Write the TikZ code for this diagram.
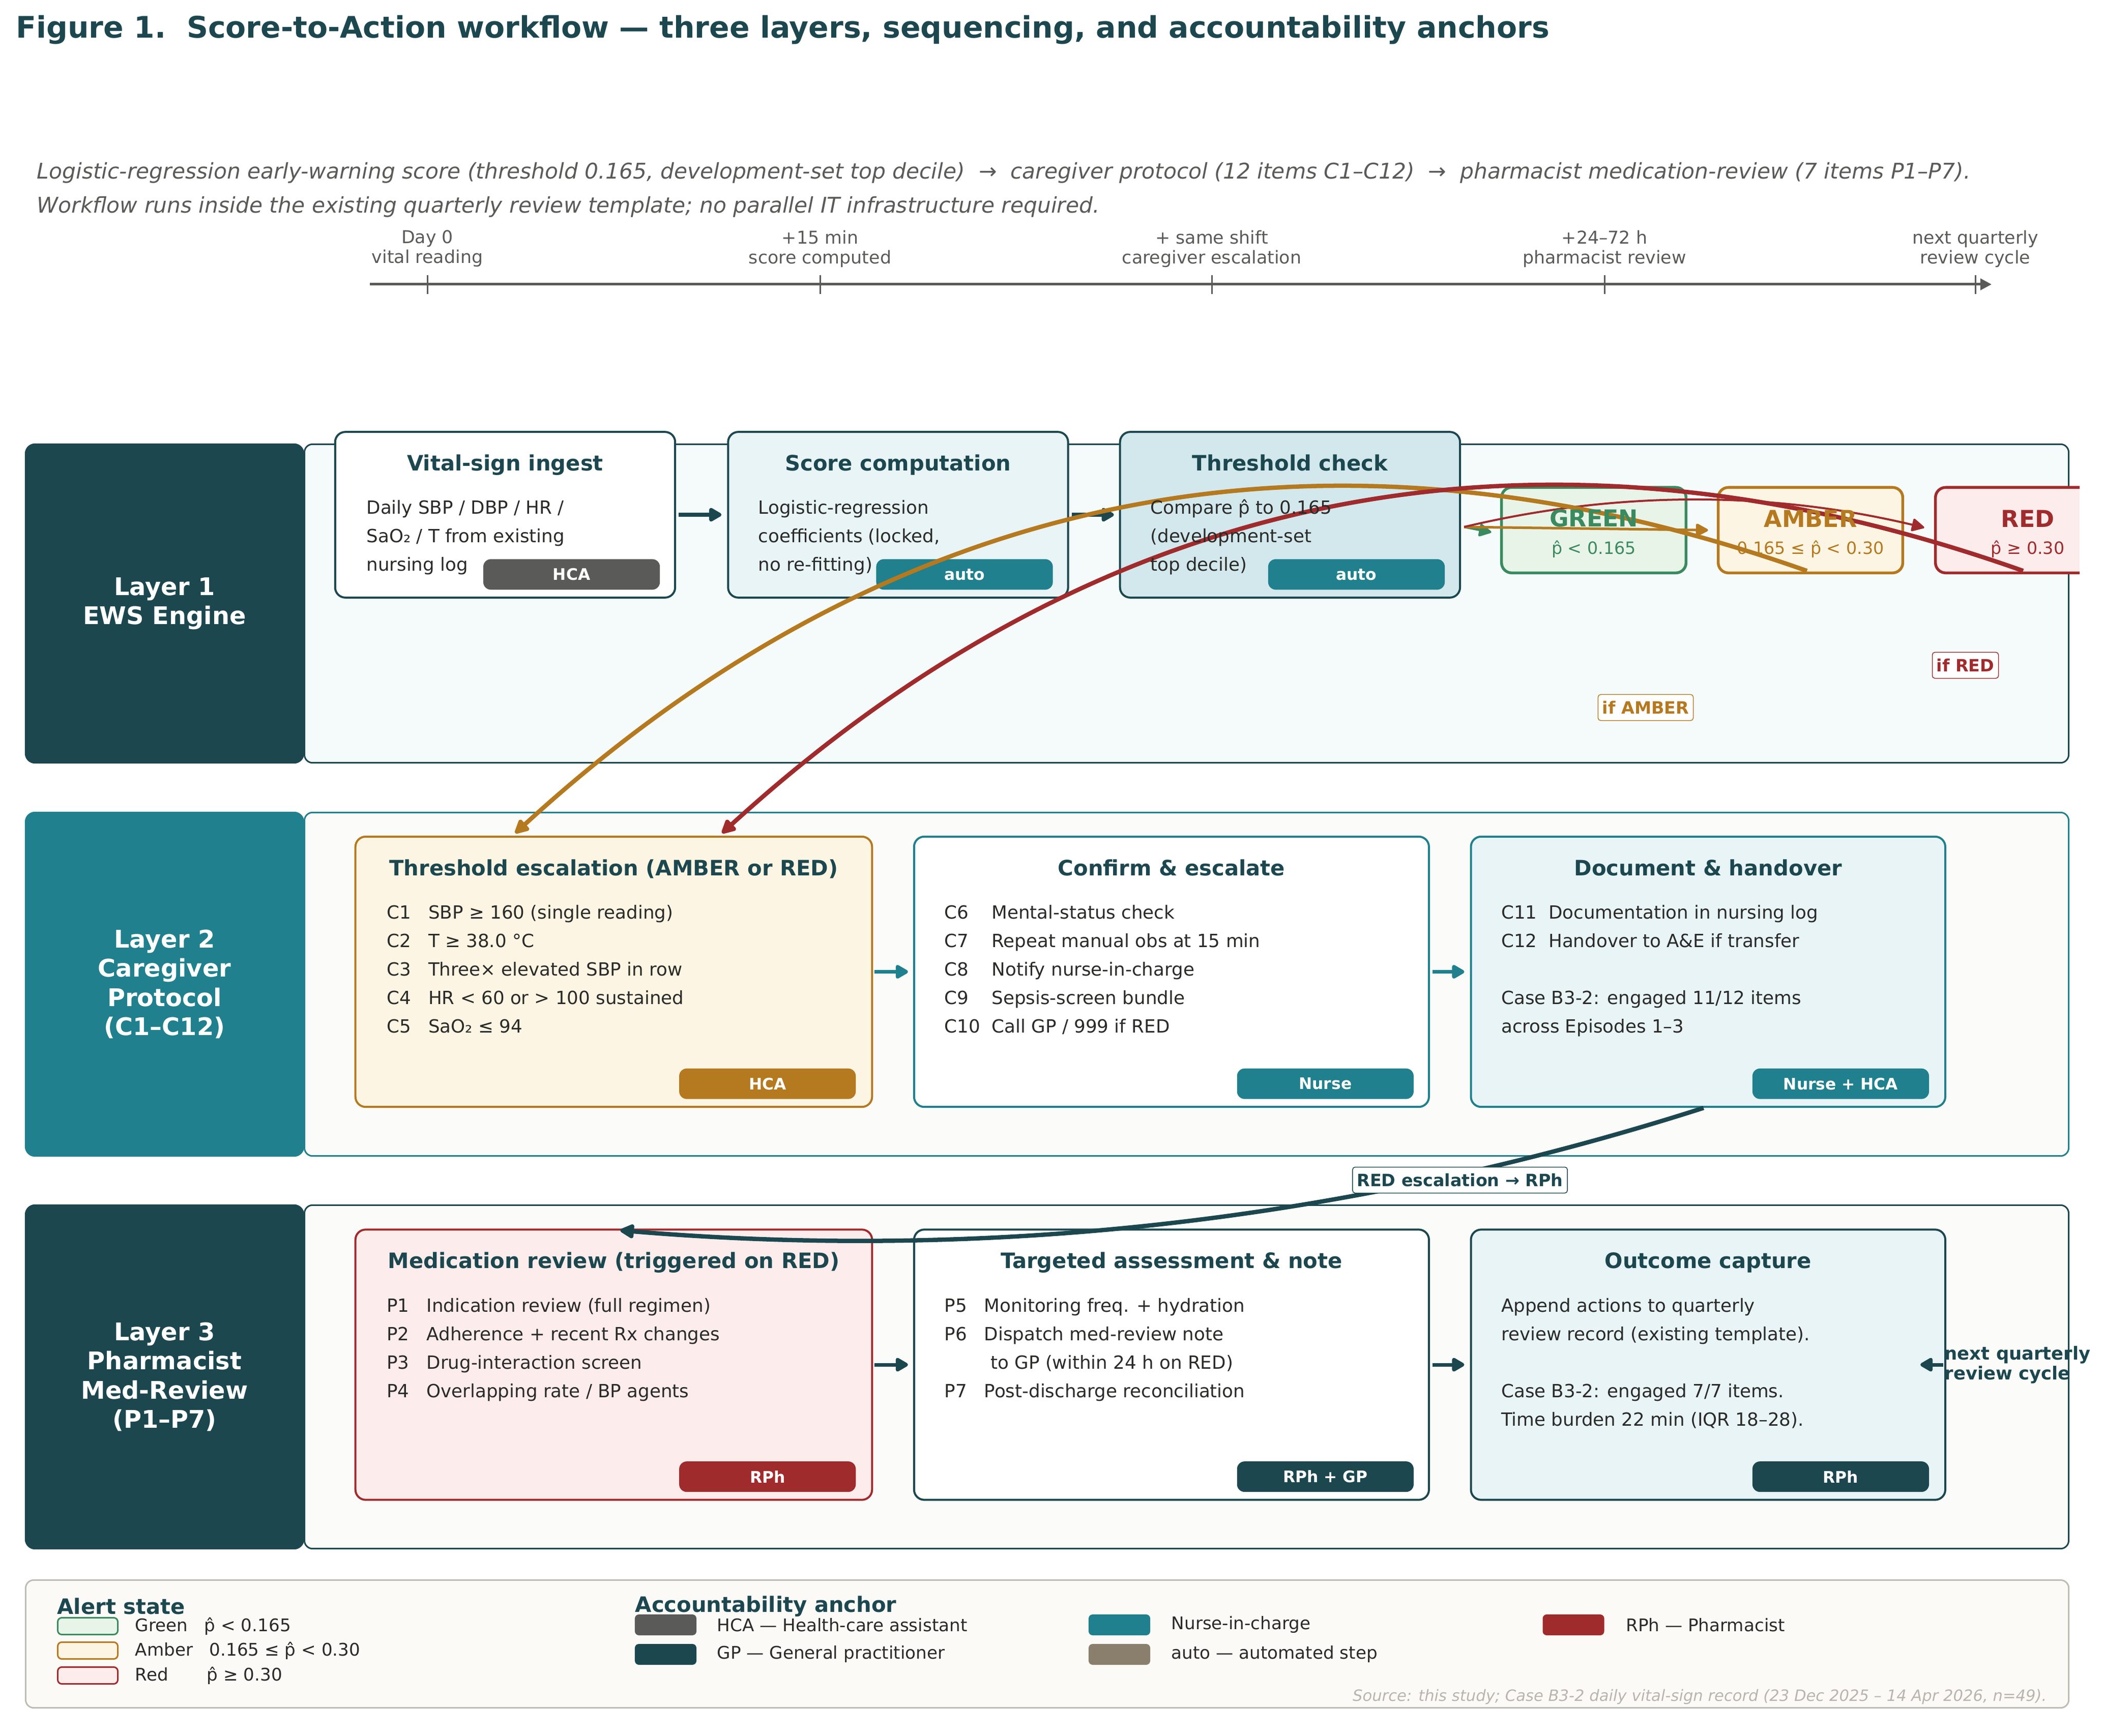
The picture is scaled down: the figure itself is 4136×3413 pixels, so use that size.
\documentclass[tikz,border=0pt]{standalone}
\usepackage{fontspec}
\setmainfont{DejaVu Sans}
\usetikzlibrary{positioning}
\usetikzlibrary{calc}
\usetikzlibrary{arrows.meta}

\definecolor{darkteal}{HTML}{1C474F}
\definecolor{midteal}{HTML}{20808D}
\definecolor{alertamber}{HTML}{B5791F}
\definecolor{alertred}{HTML}{A02B2D}
\definecolor{alertgreen}{HTML}{3A8A5F}
\definecolor{anchorgrey}{HTML}{5A5A58}
\definecolor{autotan}{HTML}{8A7F6D}
\definecolor{inktext}{HTML}{2A2A28}
\definecolor{softgreen}{HTML}{E9F4E9}
\definecolor{softamber}{HTML}{FDF5E3}
\definecolor{softred}{HTML}{FCECEC}
\definecolor{softteal}{HTML}{E8F4F6}
\definecolor{midsoftteal}{HTML}{D2E8EC}
\definecolor{panelone}{HTML}{F5FBFB}
\definecolor{paneltwo}{HTML}{FBFBF9}
\definecolor{legendfill}{HTML}{FBFAF6}
\definecolor{legendedge}{HTML}{BDBDB5}
\definecolor{sourcegrey}{HTML}{B8B5AE}

\begin{document}
\begin{tikzpicture}[
x=0.01cm, y=-0.01cm,
bandnode/.style={rectangle, rounded corners=0.2cm, minimum width=5.49cm, minimum height=6.78cm,
outer sep=0pt, inner sep=0pt, align=center, text=white,
font=\fontsize{13.6}{16.36}\selectfont\bfseries},
panelnode/.style={rectangle, rounded corners=0.16cm, line width=0.03cm, minimum width=34.66cm,
minimum height=6.75cm, outer sep=0pt, fill=paneltwo},
stepbox/.style={rectangle, rounded corners=0.2cm, line width=0.04cm, minimum width=6.68cm,
minimum height=3.255cm, outer sep=0pt, inner sep=0pt},
widebox/.style={stepbox, minimum height=5.31cm},
alertbox/.style={rectangle, rounded corners=0.2cm, line width=0.055cm, minimum width=3.625cm,
minimum height=1.68cm, outer sep=0pt},
badgenode/.style={rectangle, rounded corners=0.15cm, minimum width=3.47cm, minimum height=0.6cm,
anchor=south east, outer sep=0pt, inner sep=0pt, text=white,
font=\fontsize{8.9}{10}\selectfont\bfseries},
boxtitle/.style={text=darkteal, anchor=base, inner sep=0pt, font=\fontsize{11.86}{14}\selectfont\bfseries},
bodytext/.style={text=inktext, anchor=north west, inner sep=0pt, align=left,
font=\fontsize{10.15}{15.93}\selectfont},
ticktext/.style={text=anchorgrey, inner sep=0pt, align=center, font=\fontsize{9.9}{11.1}\selectfont},
alertname/.style={inner sep=0pt, font=\fontsize{13.04}{15}\selectfont\bfseries},
alertsub/.style={inner sep=0pt, font=\fontsize{9.48}{11}\selectfont},
tagnode/.style={rectangle, rounded corners=0.05cm, fill=white, line width=0.015cm, inner sep=0.03cm,
font=\fontsize{9.48}{11}\selectfont\bfseries},
swatchnode/.style={rectangle, rounded corners=0.08cm, minimum width=1.18cm, minimum height=0.33cm,
line width=0.03cm, outer sep=0pt, inner sep=0pt},
anchorswatch/.style={swatchnode, minimum width=1.21cm, minimum height=0.41cm},
legendtitle/.style={text=darkteal, anchor=west, inner sep=0pt, font=\fontsize{11.86}{14}\selectfont\bfseries},
legendtext/.style={text=inktext, inner sep=0pt, font=\fontsize{9.72}{11}\selectfont},
flowline/.style={line width=0.07cm, line join=round, -{Triangle[length=0.28cm,width=0.3cm,round]}},
escalation/.style={line width=0.085cm, line join=round, -{Triangle[length=0.32cm,width=0.3cm,round]}},
branchline/.style={line join=round, -{Triangle[length=0.27cm,width=0.27cm,round]}}
]

\useasboundingbox (0,0) rectangle (4136,3413);

%Header
\node[anchor=base west, inner sep=0pt, text=darkteal, font=\fontsize{16.6}{20}\selectfont\bfseries] (figtitle) at (31,75)
{Figure 1.~~Score-to-Action workflow — three layers, sequencing, and accountability anchors};
\node[anchor=north west, inner sep=0pt, align=left, text=anchorgrey, font=\fontsize{12.06}{18.8}\selectfont\itshape] (subtitle) at (72,305)
{\strut Logistic-regression early-warning score (threshold 0.165, development-set top decile)~~→~~caregiver protocol (12 items C1–C12)~~→~~pharmacist medication-review (7 items P1–P7).\\
Workflow runs inside the existing quarterly review template; no parallel IT infrastructure required.};

%Timeline
\node[ticktext] (label1) at (840,489) {Day 0\\vital reading};
\node[ticktext] (label2) at (1612,489) {+15 min\\score computed};
\node[ticktext] (label3) at (2382,489) {+ same shift\\caregiver escalation};
\node[ticktext] (label4) at (3154,489) {+24–72 h\\pharmacist review};
\node[ticktext] (label5) at (3883,489) {next quarterly\\review cycle};
\coordinate (axisstart) at (727,559);
\coordinate (axisend) at (3915,559);
\draw[anchorgrey, line width=0.05cm, -{Triangle[length=0.22cm,width=0.22cm]}] (axisstart) -- (axisend);
\draw[anchorgrey, line width=0.03cm] ($ (label1.center) + (0,52) $) -- ($ (label1.center) + (0,89) $);
\draw[anchorgrey, line width=0.03cm] ($ (label2.center) + (0,52) $) -- ($ (label2.center) + (0,89) $);
\draw[anchorgrey, line width=0.03cm] ($ (label3.center) + (0,52) $) -- ($ (label3.center) + (0,89) $);
\draw[anchorgrey, line width=0.03cm] ($ (label4.center) + (0,52) $) -- ($ (label4.center) + (0,89) $);
\draw[anchorgrey, line width=0.03cm] ($ (label5.center) + (0,52) $) -- ($ (label5.center) + (0,89) $);

%Panels
\node[panelnode, draw=darkteal, fill=panelone, minimum height=6.26cm] (panel1) at (2332.5,1186.5) {};
\node[panelnode, draw=midteal] (panel2) at (2332.5,1935) {};
\node[panelnode, draw=darkteal] (panel3) at (2332.5,2707) {};
\node[bandnode, fill=darkteal, minimum height=6.29cm] (band1) at (323.5,1186.5) {Layer 1\\EWS Engine};
\node[bandnode, fill=midteal] (band2) at (323.5,1935) {Layer 2\\Caregiver\\Protocol\\(C1–C12)};
\node[bandnode, fill=darkteal] (band3) at (323.5,2707) {Layer 3\\Pharmacist\\Med-Review\\(P1–P7)};

%Boxes
\node[stepbox, draw=darkteal, fill=white] (ingest) at (993,1012) {};
\node[stepbox, draw=darkteal, fill=softteal] (score) [right=1.04cm of ingest] {};
\node[stepbox, draw=darkteal, fill=midsoftteal] (threshold) [right=1.02cm of score] {};

\node[alertbox, draw=alertgreen, fill=softgreen] (green) at (3133,1042.3) {};
\node[alertbox, draw=alertamber, fill=softamber] (amber) at (3559,1042.3) {};
\begin{scope}
\clip (3700,900) rectangle (4088,1200);
\node[alertbox, draw=alertred, fill=softred] (red) at (3986,1042.3) {};
\end{scope}

\node[widebox, draw=alertamber, fill=softamber, minimum width=10.15cm] (trigger) at (1206.5,1910.5) {};
\node[widebox, draw=midteal, fill=white, minimum width=10.115cm] (confirm) [right=0.825cm of trigger] {};
\node[widebox, draw=midteal, fill=softteal, minimum width=9.32cm] (document) [right=0.825cm of confirm] {};

\node[widebox, draw=alertred, fill=softred, minimum width=10.15cm] (medreview) at (1206.5,2683) {};
\node[widebox, draw=darkteal, fill=white, minimum width=10.115cm] (assessment) [right=0.825cm of medreview] {};
\node[widebox, draw=darkteal, fill=softteal, minimum width=9.32cm] (outcome) [right=0.825cm of assessment] {};

%Badges
\node[badgenode, fill=anchorgrey] (badge1) at ($ (ingest.south east) + (-30,-15.5) $) {HCA};
\node[badgenode, fill=midteal] (badge2) at ($ (score.south east) + (-30,-15.5) $) {auto};
\node[badgenode, fill=midteal] (badge3) at ($ (threshold.south east) + (-30,-15.5) $) {auto};
\node[badgenode, fill=alertamber] (badge4) at ($ (trigger.south east) + (-32,-15.5) $) {HCA};
\node[badgenode, fill=midteal] (badge5) at ($ (confirm.south east) + (-30,-15.5) $) {Nurse};
\node[badgenode, fill=midteal] (badge6) at ($ (document.south east) + (-32,-15.5) $) {Nurse + HCA};
\node[badgenode, fill=alertred] (badge7) at ($ (medreview.south east) + (-32,-15.5) $) {RPh};
\node[badgenode, fill=darkteal] (badge8) at ($ (assessment.south east) + (-30,-15.5) $) {RPh + GP};
\node[badgenode, fill=darkteal] (badge9) at ($ (outcome.south east) + (-32,-15.5) $) {RPh};

%Coordinates
\coordinate (thresholdout) at ($ (threshold.east) + (8,24) $);
\coordinate (greenin) at ($ (green.west) + (-20,4) $);
\coordinate (amberin) at ($ (amber.west) + (-20,0) $);
\coordinate (redin) at ($ (red.west) + (-22,-5) $);
\coordinate (amberout) at ($ (amber.south) + (-7,-4) $);
\coordinate (redout) at ($ (red.south) + (-9,-4) $);
\coordinate (triggeramber) at ($ (trigger.north) + (-193.5,-7) $);
\coordinate (triggerred) at ($ (trigger.north) + (213,-7) $);
\coordinate (documentout) at ($ (document.south) + (-9,2) $);
\coordinate (medreviewin) at ($ (medreview.north) + (13,1.5) $);

%Lines
\draw[flowline, darkteal] ($ (ingest.east) + (7,0) $) -- ($ (score.west) + (-13,0) $);
\draw[flowline, darkteal] ($ (score.east) + (7,0) $) -- ($ (threshold.west) + (-12,0) $);
\draw[flowline, midteal] ($ (trigger.east) + (5,0) $) -- ($ (confirm.west) + (-12,0) $);
\draw[flowline, midteal] ($ (confirm.east) + (7,0) $) -- ($ (document.west) + (-13,0) $);
\draw[flowline, darkteal] ($ (medreview.east) + (5,0) $) -- ($ (assessment.west) + (-12,0) $);
\draw[flowline, darkteal] ($ (assessment.east) + (7,0) $) -- ($ (outcome.west) + (-13,0) $);

\draw[branchline, alertgreen, line width=0.045cm] (thresholdout) -- (greenin);
\draw[branchline, alertamber, line width=0.05cm] (thresholdout) -- (amberin);
\draw[branchline, alertred, line width=0.04cm] (thresholdout) .. controls +(302,-72) and +(-302,-72) .. (redin);

\draw[escalation, alertamber] (amberout) .. controls +(-950,-336) and +(743,-680) .. (triggeramber);
\draw[escalation, alertred] (redout) .. controls +(-956,-339) and +(749,-683) .. (triggerred);
\draw[escalation, darkteal] (documentout) .. controls +(-693,222) and +(725,61) .. (medreviewin);

\node[tagnode, draw=alertamber, text=alertamber, minimum width=1.87cm, minimum height=0.51cm] (ifamber) at (3235,1391) {if AMBER};
\node[tagnode, draw=alertred, text=alertred, minimum width=1.3cm, minimum height=0.51cm] (ifred) at (3863.5,1308) {if RED};
\node[tagnode, draw=darkteal, text=darkteal, minimum width=4.22cm, minimum height=0.51cm] (redtag) at (2870,2320) {RED escalation → RPh};

%Loop back to next review
\node[anchor=west, inner sep=0pt, align=left, text=darkteal, font=\fontsize{10.07}{11.1}\selectfont\bfseries] (nextcycle) at (3822,2683) {next quarterly\\review cycle};
\draw[flowline, darkteal] ($ (nextcycle.west) + (-2,0) $) -- ($ (outcome.east) + (-49,0) $);

%Alert texts
\node[alertname, text=alertgreen] (greenname) at ($ (green.center) + (0,-23) $) {GREEN};
\node[alertsub, text=alertgreen] (greensub) at ($ (green.center) + (0,37) $) {p̂ < 0.165};
\node[alertname, text=alertamber] (ambername) at ($ (amber.center) + (0,-23) $) {AMBER};
\node[alertsub, text=alertamber] (ambersub) at ($ (amber.center) + (0,37) $) {0.165 ≤ p̂ < 0.30};
\node[alertname, text=alertred] (redname) at ($ (red.center) + (0,-23) $) {RED};
\node[alertsub, text=alertred] (redsub) at ($ (red.center) + (0,37) $) {p̂ ≥ 0.30};

%Box titles
\node[boxtitle] (title1) at ($ (ingest.north) + (0,76.5) $) {Vital-sign ingest};
\node[boxtitle] (title2) at ($ (score.north) + (0,76.5) $) {Score computation};
\node[boxtitle] (title3) at ($ (threshold.north) + (0,76.5) $) {Threshold check};
\node[boxtitle] (title4) at ($ (trigger.north) + (0,76.5) $) {Threshold escalation (AMBER or RED)};
\node[boxtitle] (title5) at ($ (confirm.north) + (0,76.5) $) {Confirm \& escalate};
\node[boxtitle] (title6) at ($ (document.north) + (0,76.5) $) {Document \& handover};
\node[boxtitle] (title7) at ($ (medreview.north) + (0,76.5) $) {Medication review (triggered on RED)};
\node[boxtitle] (title8) at ($ (assessment.north) + (0,76.5) $) {Targeted assessment \& note};
\node[boxtitle] (title9) at ($ (outcome.north) + (0,76.5) $) {Outcome capture};

%Box texts
\node[bodytext] (body1) at ($ (ingest.north west) + (61,121) $)
{\strut Daily SBP / DBP / HR /\\SaO₂ / T from existing\\nursing log};
\node[bodytext] (body2) at ($ (score.north west) + (59,121) $)
{\strut Logistic-regression\\coefficients (locked,\\no re-fitting)};
\node[bodytext] (body3) at ($ (threshold.north west) + (59,121) $)
{\strut Compare p̂ to 0.165\\(development-set\\top decile)};
\node[bodytext] (body4) at ($ (trigger.north west) + (61,122) $)
{\strut C1~~~SBP ≥ 160 (single reading)\\C2~~~T ≥ 38.0 °C\\C3~~~Three× elevated SBP in row\\C4~~~HR < 60 or > 100 sustained\\C5~~~SaO₂ ≤ 94};
\node[bodytext] (body5) at ($ (confirm.north west) + (59,122) $)
{\strut C6~~~~Mental-status check\\C7~~~~Repeat manual obs at 15 min\\C8~~~~Notify nurse-in-charge\\C9~~~~Sepsis-screen bundle\\C10~~Call GP / 999 if RED};
\node[bodytext] (body6) at ($ (document.north west) + (59,122) $)
{\strut C11~~Documentation in nursing log\\C12~~Handover to A\&E if transfer\\~\\Case B3-2: engaged 11/12 items\\across Episodes 1–3};
\node[bodytext] (body7) at ($ (medreview.north west) + (61,122) $)
{\strut P1~~~Indication review (full regimen)\\P2~~~Adherence + recent Rx changes\\P3~~~Drug-interaction screen\\P4~~~Overlapping rate / BP agents};
\node[bodytext] (body8) at ($ (assessment.north west) + (59,122) $)
{\strut P5~~~Monitoring freq. + hydration\\P6~~~Dispatch med-review note\\~~~~~~~~to GP (within 24 h on RED)\\P7~~~Post-discharge reconciliation};
\node[bodytext] (body9) at ($ (outcome.north west) + (59,122) $)
{\strut Append actions to quarterly\\review record (existing template).\\~\\Case B3-2: engaged 7/7 items.\\Time burden 22 min (IQR 18–28).};

%Legend
\node[rectangle, rounded corners=0.16cm, draw=legendedge, fill=legendfill, line width=0.03cm, minimum width=40.14cm, minimum height=2.51cm, outer sep=0pt] (legendpanel) at (2058.5,3232) {};
\node[legendtitle] (alerthead) at (112,3158) {Alert state};
\node[legendtitle] (anchorhead) at (1248,3158) {Accountability anchor};

\node[swatchnode, draw=alertgreen, fill=softgreen] (swgreen) at (172.5,3197) {};
\node[swatchnode, draw=alertamber, fill=softamber] (swamber) at (172.5,3245) {};
\node[swatchnode, draw=alertred, fill=softred] (swred) at (172.5,3294) {};
\node[legendtext] (txgreen) [right=0.335cm of swgreen] {Green~~~p̂ < 0.165};
\node[legendtext] (txamber) [right=0.335cm of swamber] {Amber~~~0.165 ≤ p̂ < 0.30};
\node[legendtext] (txred) [right=0.335cm of swred] {Red~~~~~~~p̂ ≥ 0.30};

\node[anchorswatch, fill=anchorgrey] (swhca) at (1308.5,3194.5) {};
\node[anchorswatch, fill=darkteal] (swgp) at (1308.5,3252.5) {};
\node[anchorswatch, fill=midteal] (swnurse) at (2200.5,3194.5) {};
\node[anchorswatch, fill=autotan] (swauto) at (2200.5,3252.5) {};
\node[anchorswatch, fill=alertred] (swrph) at (3093,3194.5) {};
\node[legendtext] (txhca) [right=0.4cm of swhca] {HCA — Health-care assistant};
\node[legendtext] (txgp) [right=0.4cm of swgp] {GP — General practitioner};
\node[legendtext] (txnurse) [right=0.41cm of swnurse] {Nurse-in-charge};
\node[legendtext] (txauto) [right=0.41cm of swauto] {auto — automated step};
\node[legendtext] (txrph) [right=0.42cm of swrph] {RPh — Pharmacist};

\node[anchor=east, inner sep=0pt, text=sourcegrey, font=\fontsize{8.71}{10}\selectfont\itshape] (sourcenote) at (4024,3336)
{Source: this study; Case B3-2 daily vital-sign record (23 Dec 2025 – 14 Apr 2026, n=49).};

\end{tikzpicture}
\end{document}
